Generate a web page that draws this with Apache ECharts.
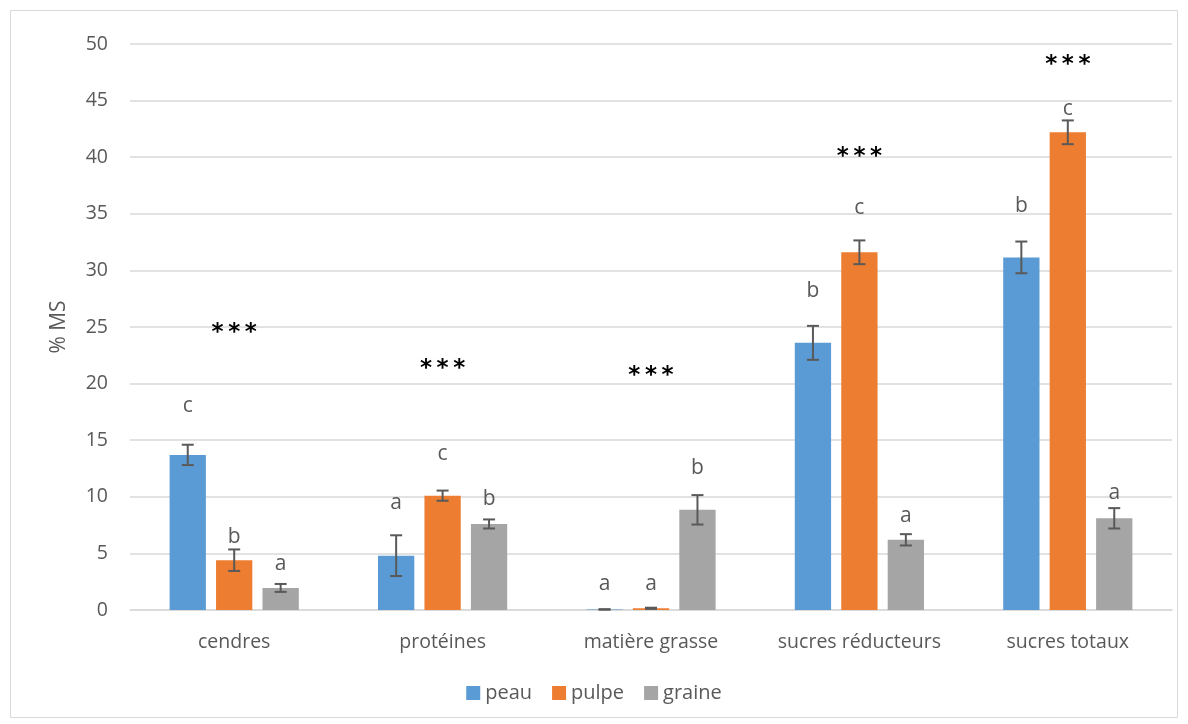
<!DOCTYPE html>
<html>
<head>
<meta charset="utf-8">
<script src="https://cdn.jsdelivr.net/npm/echarts@6/dist/echarts.min.js"></script>
<style>
  html, body { margin: 0; padding: 0; background: #fff; }
  #chart { width: 1188px; height: 724px; }
</style>
</head>
<body>
<div id="chart"></div>
<script>
// catégories et séries
const categories = ['cendres', 'protéines', 'matière grasse', 'sucres réducteurs', 'sucres totaux'];
const seriesNames = ['peau', 'pulpe', 'graine'];

// moyennes (% MS)
const peau = [13.7, 4.8, 0.05, 23.6, 31.15];
const pulpe = [4.4, 10.1, 0.15, 31.6, 42.2];
const graine = [1.95, 7.6, 8.85, 6.2, 8.1];

// écarts (barres d'erreur)
const peauErr = [0.9, 1.8, 0.02, 1.5, 1.4];
const pulpeErr = [0.95, 0.45, 0.05, 1.05, 1.05];
const graineErr = [0.35, 0.4, 1.3, 0.5, 0.9];

// lettres de significativité et hauteur (en % MS)
const peauLetters = ['c', 'a', 'a', 'b', 'b'];
const pulpeLetters = ['b', 'c', 'a', 'c', 'c'];
const graineLetters = ['a', 'b', 'b', 'a', 'a'];
const peauLetterY = [18.05, 9.45, 2.3, 28.2, 35.7];
const pulpeLetterY = [6.45, 13.8, 2.3, 35.5, 44.3];
const graineLetterY = [4.1, 9.8, 12.5, 8.3, 10.3];

// étoiles (test global)
const starText = ['***', '***', '***', '***', '***'];
const starY = [24.5, 21.3, 20.7, 40.0, 48.1];

// axe Y
const yTicks = [0, 5, 10, 15, 20, 25, 30, 35, 40, 45, 50];

const colors = ['#5B9BD5', '#ED7D31', '#A5A5A5'];
const textColor = '#595959';
const catGap = 0.38;
const barGapRatio = 0.28;

const chart = echarts.init(document.getElementById('chart'));

// décalage horizontal de la barre i dans sa catégorie
const barOffset = (api, idx) => {
  const band = api.size([1, 0])[0];
  const total = band * (1 - catGap);
  const bw = total / (3 + 2 * barGapRatio);
  return (idx - 1) * bw * (1 + barGapRatio);
};

const means = [peau, pulpe, graine];
const errs = [peauErr, pulpeErr, graineErr];
const letters = [peauLetters, pulpeLetters, graineLetters];
const letterY = [peauLetterY, pulpeLetterY, graineLetterY];

const barSeries = seriesNames.map((name, i) => ({
  name: name,
  type: 'bar',
  data: means[i],
  barGap: (barGapRatio * 100) + '%',
  barCategoryGap: (catGap * 100) + '%',
  itemStyle: { color: colors[i] },
  z: 2
}));

// barres d'erreur
const errSeries = seriesNames.map((name, i) => ({
  type: 'custom',
  name: name + '-err',
  data: categories.map((c, k) => [k, means[i][k], errs[i][k]]),
  encode: { x: 0, y: 1 },
  z: 5,
  silent: true,
  renderItem: (params, api) => {
    const k = api.value(0);
    const v = api.value(1);
    const e = api.value(2);
    const dx = barOffset(api, i);
    const top = api.coord([k, v + e]);
    const bot = api.coord([k, v - e]);
    const x = top[0] + dx;
    const cap = 6;
    const style = { stroke: '#595959', lineWidth: 2 };
    return {
      type: 'group',
      children: [
        { type: 'line', shape: { x1: x, y1: top[1], x2: x, y2: bot[1] }, style: style },
        { type: 'line', shape: { x1: x - cap, y1: top[1], x2: x + cap, y2: top[1] }, style: style },
        { type: 'line', shape: { x1: x - cap, y1: bot[1], x2: x + cap, y2: bot[1] }, style: style }
      ]
    };
  }
}));

// lettres
const letterSeries = seriesNames.map((name, i) => ({
  type: 'custom',
  name: name + '-lettres',
  data: categories.map((c, k) => [k, letterY[i][k], letters[i][k]]),
  encode: { x: 0, y: 1 },
  z: 6,
  silent: true,
  renderItem: (params, api) => {
    const k = api.value(0);
    const p = api.coord([k, api.value(1)]);
    return {
      type: 'text',
      x: p[0] + barOffset(api, i),
      y: p[1],
      style: {
        text: letters[i][k],
        fill: textColor,
        font: '21px "Open Sans", sans-serif',
        align: 'center',
        verticalAlign: 'middle'
      }
    };
  }
}));

// étoiles
const starSeries = {
  type: 'custom',
  name: 'etoiles',
  data: categories.map((c, k) => [k, starY[k]]),
  encode: { x: 0, y: 1 },
  z: 6,
  silent: true,
  renderItem: (params, api) => {
    const k = api.value(0);
    const p = api.coord([k, api.value(1)]);
    return {
      type: 'text',
      x: p[0],
      y: p[1],
      style: {
        text: starText[k].split('').join('\u2009'),
        fill: '#000',
        font: 'bold 23px "DejaVu Sans", sans-serif',
        align: 'center',
        verticalAlign: 'middle'
      }
    };
  }
};

const option = {
  backgroundColor: '#fff',
  animation: false,
  textStyle: { fontFamily: '"Open Sans", sans-serif' },
  graphic: [{
    type: 'rect',
    shape: { x: 10.5, y: 10.5, width: 1167, height: 707 },
    style: { fill: 'none', stroke: '#d9d9d9', lineWidth: 1 },
    silent: true
  }],
  grid: { left: 130, right: 16, top: 44, bottom: 114 },
  legend: {
    data: seriesNames,
    bottom: 16,
    left: 'center',
    icon: 'rect',
    itemWidth: 14,
    itemHeight: 14,
    itemGap: 20,
    textStyle: { color: textColor, fontSize: 20 }
  },
  xAxis: {
    type: 'category',
    data: categories,
    axisLine: { lineStyle: { color: '#d9d9d9', width: 1.5 } },
    axisTick: { show: false },
    axisLabel: { color: textColor, fontSize: 19.5, margin: 22, interval: 0 }
  },
  yAxis: {
    type: 'value',
    min: yTicks[0],
    max: yTicks[yTicks.length - 1],
    interval: yTicks[1] - yTicks[0],
    name: '% MS',
    nameLocation: 'middle',
    nameGap: 60,
    nameRotate: 90,
    nameTextStyle: { color: textColor, fontSize: 21 },
    axisLine: { show: false },
    axisTick: { show: false },
    axisLabel: { color: textColor, fontSize: 19.5, margin: 22 },
    splitLine: { lineStyle: { color: '#d9d9d9', width: 1.5 } }
  },
  series: [...barSeries, ...errSeries, ...letterSeries, starSeries]
};

chart.setOption(option);
</script>
</body>
</html>
